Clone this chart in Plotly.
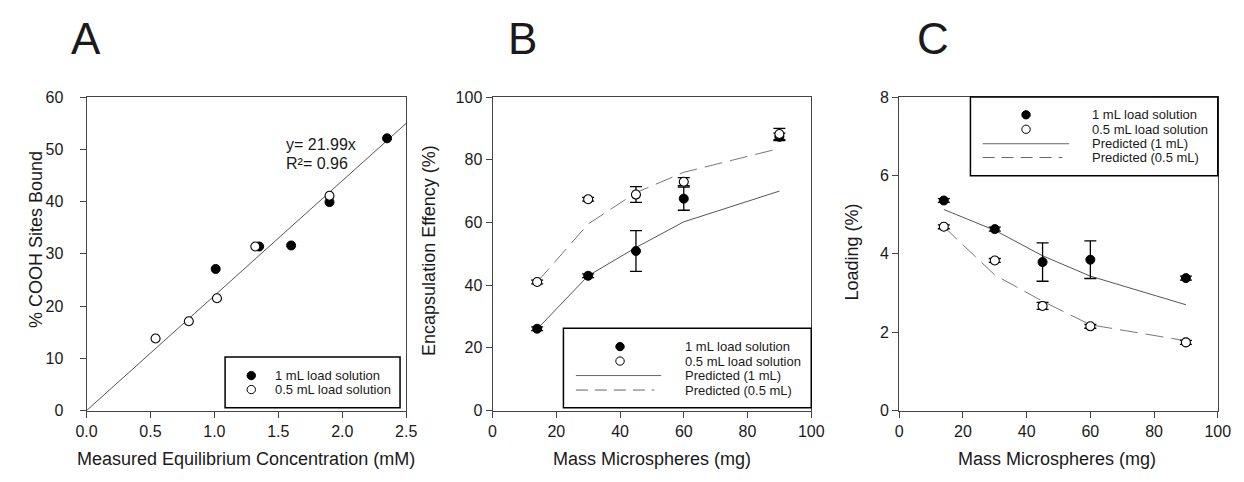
import plotly.graph_objects as go

W, H = 1244, 482

# ---------------- data ----------------
# Panel A
a_x_1ml = [1.01, 1.35, 1.60, 1.90, 2.35]
a_y_1ml = [27.1, 31.4, 31.6, 39.9, 52.1]
a_x_05ml = [0.54, 0.80, 1.02, 1.32, 1.90]
a_y_05ml = [13.8, 17.1, 21.5, 31.4, 41.1]
fit_slope = 21.99
fit_x = [0.0, 2.5]

# Panel B / C (shared x)
mass = [14, 30, 45, 60, 90]
b_1ml = [26.1, 43.0, 50.9, 67.6, 87.3]
b_1ml_err = [0.6, 0.6, 6.5, 3.7, 1.2]
b_05ml = [41.0, 67.4, 68.9, 73.0, 88.2]
b_05ml_err = [0.6, 0.6, 2.5, 1.3, 1.8]
b_pred_1ml = [26.0, 43.0, 52.0, 60.2, 70.0]
b_pred_05ml = [41.0, 59.5, 69.5, 76.0, 83.6]

c_1ml = [5.36, 4.63, 3.79, 3.85, 3.38]
c_1ml_err = [0.05, 0.05, 0.49, 0.48, 0.05]
c_05ml = [4.69, 3.83, 2.67, 2.15, 1.74]
c_05ml_err = [0.05, 0.05, 0.09, 0.05, 0.05]
c_pred_1ml = [5.13, 4.60, 3.95, 3.43, 2.70]
c_pred_05ml = [4.69, 3.46, 2.79, 2.19, 1.78]

legend_labels = ["1 mL load solution", "0.5 mL load solution",
                 "Predicted (1 mL)", "Predicted (0.5 mL)"]

FONT = "Liberation Sans, Arial, sans-serif"
TXT = "#1a1a1a"
AX = "#444444"
LINE = "#555555"


def px(x):
    return x / W


def py(y):
    return 1 - y / H


fig = go.Figure()

filled = dict(symbol="circle", size=9, color="black", line=dict(color="black", width=1))
opened = dict(symbol="circle", size=9, color="white", line=dict(color="black", width=1.1))
err_style = dict(type="data", color="black", thickness=1.3, width=6)

# Panel A
fig.add_trace(go.Scatter(x=fit_x, y=[fit_slope * v for v in fit_x], mode="lines",
                         line=dict(color=LINE, width=1), xaxis="x", yaxis="y"))
fig.add_trace(go.Scatter(x=a_x_1ml, y=a_y_1ml, mode="markers", marker=filled,
                         xaxis="x", yaxis="y"))
fig.add_trace(go.Scatter(x=a_x_05ml, y=a_y_05ml, mode="markers", marker=opened,
                         xaxis="x", yaxis="y"))

# Panel B
fig.add_trace(go.Scatter(x=mass, y=b_pred_1ml, mode="lines",
                         line=dict(color=LINE, width=1), xaxis="x2", yaxis="y2"))
fig.add_trace(go.Scatter(x=mass, y=b_pred_05ml, mode="lines",
                         line=dict(color="#777777", width=1, dash="18px,8px"),
                         xaxis="x2", yaxis="y2"))
fig.add_trace(go.Scatter(x=mass, y=b_1ml, mode="markers", marker=filled,
                         error_y=dict(array=b_1ml_err, **err_style), xaxis="x2", yaxis="y2"))
fig.add_trace(go.Scatter(x=mass, y=b_05ml, mode="markers", marker=opened,
                         error_y=dict(array=b_05ml_err, **err_style), xaxis="x2", yaxis="y2"))

# Panel C
fig.add_trace(go.Scatter(x=mass, y=c_pred_1ml, mode="lines",
                         line=dict(color=LINE, width=1), xaxis="x3", yaxis="y3"))
fig.add_trace(go.Scatter(x=mass, y=c_pred_05ml, mode="lines",
                         line=dict(color="#777777", width=1, dash="18px,8px"),
                         xaxis="x3", yaxis="y3"))
fig.add_trace(go.Scatter(x=mass, y=c_1ml, mode="markers", marker=filled,
                         error_y=dict(array=c_1ml_err, **err_style), xaxis="x3", yaxis="y3"))
fig.add_trace(go.Scatter(x=mass, y=c_05ml, mode="markers", marker=opened,
                         error_y=dict(array=c_05ml_err, **err_style), xaxis="x3", yaxis="y3"))

ydom = [py(417.3), py(92.3)]
axis_common = dict(showgrid=False, zeroline=False, showline=True, linecolor=AX, linewidth=1,
                   mirror=True, ticks="outside", ticklen=6, tickcolor=AX, tickwidth=1,
                   tickfont=dict(family=FONT, size=16, color=TXT))

fig.update_layout(
    width=W, height=H, margin=dict(l=0, r=0, t=0, b=0),
    paper_bgcolor="white", plot_bgcolor="white", showlegend=False,
    xaxis=dict(domain=[px(77), px(403)], range=[0, 2.5], tickvals=[0, 0.5, 1, 1.5, 2, 2.5],
               tickformat=".1f", anchor="y", **axis_common),
    yaxis=dict(domain=ydom, range=[0, 60], tickvals=[0, 10, 20, 30, 40, 50, 60],
               anchor="x", ticklabelstandoff=13, **axis_common),
    xaxis2=dict(domain=[px(491), px(816)], range=[0, 100], tickvals=[0, 20, 40, 60, 80, 100],
                anchor="y2", **axis_common),
    yaxis2=dict(domain=ydom, range=[0, 100], tickvals=[0, 20, 40, 60, 80, 100],
                anchor="x2", **axis_common),
    xaxis3=dict(domain=[px(905.7), px(1230.5)], range=[0, 100], tickvals=[0, 20, 40, 60, 80, 100],
                anchor="y3", **axis_common),
    yaxis3=dict(domain=ydom, range=[0, 8], tickvals=[0, 2, 4, 6, 8],
                anchor="x3", **axis_common),
)

ann = []
shapes = []


def text(x, y, s, size, xanchor="center", angle=0, color=TXT):
    ann.append(dict(x=px(x), y=py(y), xref="paper", yref="paper", text=s, showarrow=False,
                    xanchor=xanchor, yanchor="middle", textangle=angle,
                    font=dict(family=FONT, size=size, color=color)))


# Panel letters
text(76, 32, "A", 44)
text(522, 32, "B", 44)
text(940, 32, "C", 44)

# Axis titles
text(240, 468, "Measured Equilibrium Concentration (mM)", 18)
text(653.5, 467, "Mass Microspheres (mg)", 18)
text(1067, 468, "Mass Microspheres (mg)", 18)
text(25, 240, "% COOH Sites Bound", 18, angle=-90)
text(426, 251, "Encapsulation Effency (%)", 18, angle=-90)
text(858, 253, "Loading (%)", 18, angle=-90)

# Fit equation
text(278, 142, "y= 21.99x", 16, xanchor="left")
text(278, 161, "R\u00b2= 0.96", 16, xanchor="left")


def box(x0, y0, x1, y1):
    shapes.append(dict(type="rect", xref="paper", yref="paper", x0=px(x0), x1=px(x1),
                       y0=py(y1), y1=py(y0), line=dict(color="black", width=1.5),
                       fillcolor="white", layer="above"))


def circ(cx, cy, fill):
    r = 4.3
    shapes.append(dict(type="circle", xref="paper", yref="paper", x0=px(cx - r), x1=px(cx + r),
                       y0=py(cy + r), y1=py(cy - r), line=dict(color="black", width=1),
                       fillcolor=fill, layer="above"))


def hline(x0, x1, y, dash):
    shapes.append(dict(type="line", xref="paper", yref="paper", x0=px(x0), x1=px(x1),
                       y0=py(y), y1=py(y), line=dict(color="#666666", width=1, dash=dash),
                       layer="above"))


# Legend A
box(218.3, 361.7, 396.7, 414.3)
circ(245, 381, "black")
circ(245, 395.5, "white")
text(266.7, 381, legend_labels[0], 13, xanchor="left")
text(266.7, 395.5, legend_labels[1], 13, xanchor="left")

# Legend B
box(563.3, 332, 816, 414.3)
rowsB = [351, 366, 381, 396]
circ(621, rowsB[0], "black")
circ(621, rowsB[1], "white")
hline(576, 663, rowsB[2], "solid")
hline(576, 656, rowsB[3], "12px,7px")
for lab, yy in zip(legend_labels, rowsB):
    text(685.5, yy, lab, 13, xanchor="left")

# Legend C
box(978.3, 92.3, 1230.5, 173.8)
rowsC = [110.7, 125.7, 140.7, 155]
circ(1035, rowsC[0], "black")
circ(1035, rowsC[1], "white")
hline(990.7, 1079, rowsC[2], "solid")
hline(990.7, 1072, rowsC[3], "12px,7px")
for lab, yy in zip(legend_labels, rowsC):
    text(1100, yy, lab, 13, xanchor="left")

fig.update_layout(annotations=ann, shapes=shapes)
fig.write_html("out.html")
